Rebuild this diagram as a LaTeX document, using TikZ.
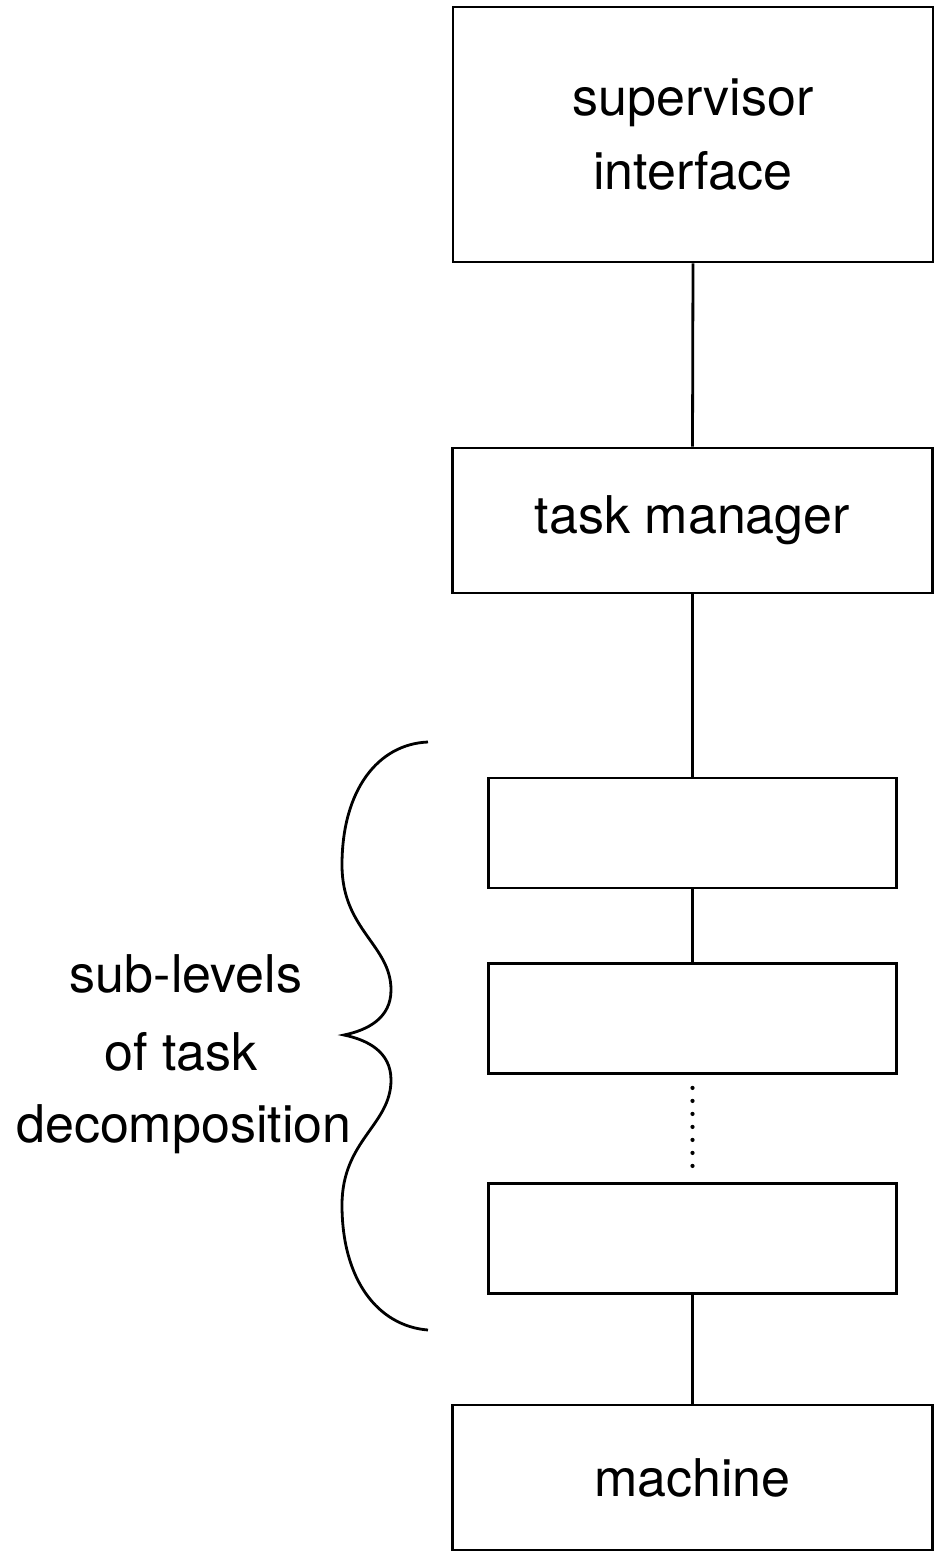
\documentclass[tikz,border=0pt]{standalone}
\usepackage{fontspec}
\setmainfont{TeX Gyre Heros}
\begin{document}
\begin{tikzpicture}[x=1pt,y=-1pt,
  every node/.style={font=\fontsize{52}{74}\selectfont},
  box/.style={draw, line width=2.8pt, rectangle, inner sep=0pt, align=center},
  wide/.style={box, minimum width=480pt},
  sub/.style={box, minimum width=408pt, minimum height=110pt},
  link/.style={line width=2.8pt},
  dots/.style={line width=4.2pt, line cap=round, dash pattern=on 0pt off 13pt},
  lbl/.style={anchor=base, inner sep=0pt}]
\useasboundingbox (0,0) rectangle (939,1556);

% levels of the hierarchy
\node[wide, minimum height=255pt] (sup) at (693,134.5) {supervisor\\interface};
\node[wide, minimum height=145pt] (tm)  at (692.5,520.5) {task manager};
\node[sub] (l1) at (692.5,833) {};
\node[sub] (l2) at (692.5,1018.5) {};
\node[sub] (l3) at (692.5,1238.5) {};
\node[wide, minimum height=145pt] (mc) at (692.5,1477.5) {machine};

% connections between levels
\draw[link] (sup.south) -- (tm.north);
\draw[link] (tm.south) -- (l1.north);
\draw[link] (l1.south) -- (l2.north);
\draw[dots, shorten <=13pt, shorten >=6pt] (l2.south) -- (l3.north);
\draw[link] (l3.south) -- (mc.north);

% brace grouping the sub-levels
\draw[line width=2.8pt]
  (428,742) .. controls (378,744) and (342,790) .. (342,865)
  .. controls (342,930) and (391,945) .. (391,990)
  .. controls (391,1018) and (368,1030) .. (344,1035)
  .. controls (368,1040) and (391,1052) .. (391,1080)
  .. controls (391,1125) and (342,1140) .. (342,1205)
  .. controls (342,1280) and (378,1326) .. (428,1330);

\node[lbl] (t1) at (186,992) {sub-levels};
\node[lbl] (t2) at (181,1070) {of task};
\node[lbl] (t3) at (184,1142) {decomposition};
\end{tikzpicture}
\end{document}
